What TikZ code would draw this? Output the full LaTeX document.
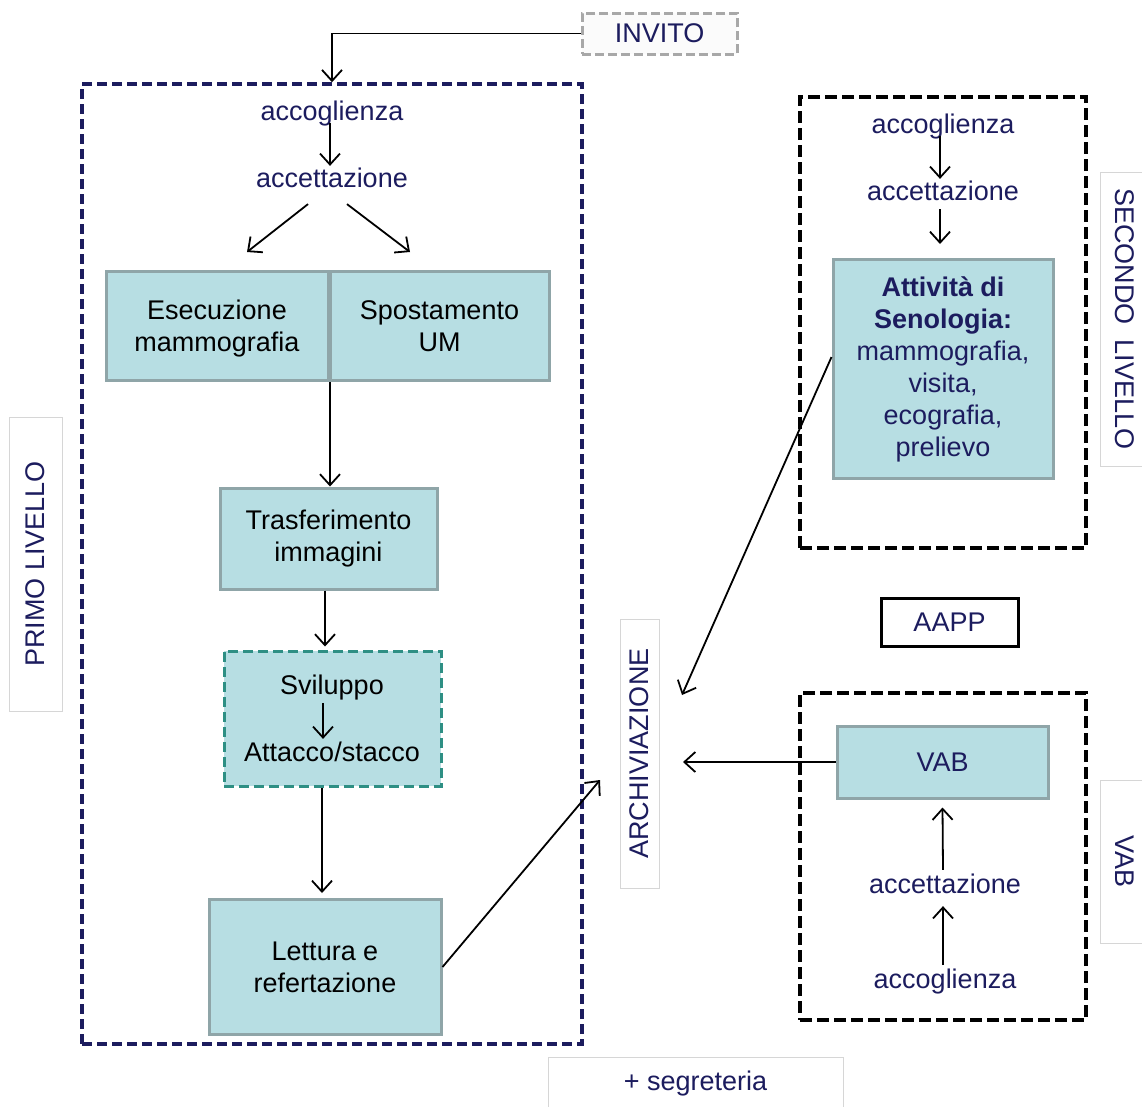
\documentclass[tikz,border=0pt]{standalone}
\usepackage{fontspec}
\setmainfont{Liberation Sans}
\usetikzlibrary{arrows.meta,calc}
\definecolor{navy}{HTML}{1C1C5E}
\definecolor{boxfill}{HTML}{B7DEE3}
\definecolor{boxline}{HTML}{8FA5A8}
\definecolor{dashteal}{HTML}{2E8F84}
\definecolor{lightframe}{HTML}{D6D6D6}
\definecolor{invitoline}{HTML}{A8A8A8}
\tikzset{
  every node/.style={font=\fontsize{27}{32}\selectfont, inner sep=0pt},
  word/.style={text=navy, align=center},
  flow/.style={draw=boxline, line width=3pt, fill=boxfill, align=center, text=black},
  flowdash/.style={draw=dashteal, line width=3pt, fill=boxfill, dash pattern=on 10pt off 5pt},
  frameprim/.style={draw=navy, line width=3.5pt, dash pattern=on 10pt off 5pt},
  framesec/.style={draw=black, line width=3.5pt, dash pattern=on 12pt off 5pt},
  sidelabel/.style={draw=lightframe, line width=1pt, fill=white, text=navy},
  flowarrow/.style={-{Straight Barb[length=11pt,width=20pt]}, line width=1.8pt},
}
\begin{document}
\begin{tikzpicture}[x=1pt,y=-1pt]
\useasboundingbox (0,0) rectangle (1142,1106);

% containers
\node[frameprim, minimum width=500, minimum height=960] (prim) at (332,564) {};
\node[framesec, minimum width=286, minimum height=451] (sec) at (943,322.5) {};
\node[framesec, minimum width=286, minimum height=327] (vabframe) at (943,856.5) {};

% invitation
\node[draw=invitoline, line width=3pt, dash pattern=on 9pt off 4pt, fill=gray!3,
      text=navy, minimum width=155, minimum height=41] (invito) at (659.5,33.5) {INVITO};
\draw[flowarrow] (invito.west) -| (prim.north);

% first level
\node[word] (acc1) at (332,114) {accoglienza};
\node[word] (acc2) at (332,178) {accettazione};
\draw[flowarrow] ($(acc1.south)+(-2,-4)$) -- ($(acc2.north)+(-2,-2)$);
\coordinate (forkL) at (247,252);
\coordinate (forkR) at (410,252);
\draw[flowarrow] ($(acc2.south)+(-24,16)$) -- (forkL);
\draw[flowarrow] ($(acc2.south)+(15,16)$) -- (forkR);

\node[flow, minimum width=222, minimum height=109] (esec) at (217,326) {Esecuzione\\\raisebox{0pt}[\height][0pt]{mammografia}};
\node[flow, minimum width=219, minimum height=109] (spost) at (439.5,326) {Spostamento\\UM};

\node[flow, minimum width=217, minimum height=101] (trasf) at (328.5,538.5) {Trasferimento\\immagini};
\draw[flowarrow] ($(esec.south east)+(0.5,0)$) -- ($(trasf.north -| esec.south east)+(0.5,0)$);

\node[flowdash, minimum width=217, minimum height=135] (svil) at (332.5,718.5) {};
\node[text=black] (svil1) at (332,688) {Sviluppo};
\node[text=black] (svil2) at (332,752) {Attacco/stacco};
\draw[flowarrow] ($(svil1.south)+(-9,2)$) -- ($(svil2.north)+(-9,-3)$);
\draw[flowarrow] (trasf.south -| 325,0) -- ($(svil.north -| 325,0)+(0,-3)$);

\node[flow, minimum width=232, minimum height=135] (lett) at (325,967) {Lettura e\\refertazione};
\draw[flowarrow] (svil.south -| 322,0) -- ($(lett.north -| 322,0)+(0,-5)$);

% archive
\node[sidelabel, rotate=90, minimum width=269, minimum height=39] (arch) at (639.5,753.5) {ARCHIVIAZIONE};
\coordinate (archA) at (600,780);
\coordinate (archB) at (682,695);
\coordinate (archC) at (683,762);
\draw[flowarrow] (lett.east) -- (archA);

% second level
\node[word] (acc3) at (943,127) {accoglienza};
\node[word] (acc4) at (943,191) {accettazione};
\draw[flowarrow] ($(acc3.south)+(-3,-4)$) -- ($(acc4.north)+(-3,-2)$);
\node[flow, minimum width=220, minimum height=219, text=navy] (sen) at (943,369)
  {\textbf{Attività di}\\\textbf{Senologia:}\\mammografia,\\visita,\\ecografia,\\prelievo};
\draw[flowarrow] ($(acc4.south)+(-3,8)$) -- ($(sen.north)+(-3,-14)$);
\draw[flowarrow] ($(sen.west)+(0,-12)$) -- (archB);

\node[draw=black, line width=3pt, text=navy, minimum width=137, minimum height=48] (aapp) at (949.5,622) {AAPP};

% VAB
\node[flow, minimum width=211, minimum height=72, text=navy] (vab) at (942.5,762) {VAB};
\draw[flowarrow] (vab.west) -- (archC);
\node[word] (acc6) at (945,884) {accettazione};
\node[word] (acc5) at (945,982) {accoglienza};
\draw[flowarrow] ($(acc5.north)+(-2,-4)$) -- ($(acc6.south)+(-2,12)$);
\draw[flowarrow] ($(acc6.north)+(-2,-4)$) -- ($(vab.south)+(0,8)$);

% side labels
\node[sidelabel, rotate=90, minimum width=294, minimum height=53] (prim-l) at (35.5,564) {PRIMO LIVELLO};
\node[sidelabel, rotate=-90, minimum width=294, minimum height=50] (sec-l) at (1125,319) {SECONDO\ \ LIVELLO};
\node[sidelabel, rotate=-90, minimum width=163, minimum height=50] (vab-l) at (1125,861.5) {VAB};
\node[sidelabel, minimum width=295, minimum height=52] (segr) at (695.5,1083) {+ segreteria};
\end{tikzpicture}
\end{document}
